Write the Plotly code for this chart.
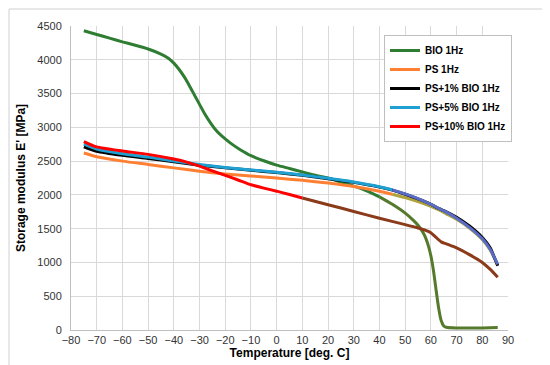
import plotly.graph_objects as go

# ---- data ----
bio_t = [-75, -70, -65, -60, -55, -50, -45, -42, -40, -38, -36, -34, -32, -30, -28, -26, -24, -22, -20, -17, -14, -10, -5, 0, 5, 10, 15, 20, 25, 30, 35, 40, 45, 50, 53, 55, 57, 58, 59, 60, 61, 62, 63, 64, 65, 66, 70, 75, 80, 86]
bio_e = [4430, 4375, 4320, 4265, 4215, 4160, 4085, 4020, 3950, 3860, 3750, 3620, 3480, 3340, 3200, 3080, 2975, 2895, 2830, 2740, 2665, 2580, 2505, 2440, 2390, 2340, 2290, 2250, 2190, 2130, 2060, 1970, 1860, 1730, 1630, 1550, 1440, 1360, 1250, 1100, 880, 600, 330, 140, 60, 40, 30, 28, 30, 38]

ps_t = [-75, -70, -60, -50, -40, -30, -20, -10, 0, 10, 20, 30, 40, 45, 50, 55, 60, 63, 66, 70, 75, 80, 83, 86]
ps_e = [2620, 2565, 2500, 2450, 2400, 2350, 2310, 2280, 2250, 2215, 2175, 2125, 2055, 2010, 1960, 1900, 1830, 1780, 1720, 1640, 1510, 1340, 1190, 960]

ps1_t = [-75, -70, -60, -50, -40, -30, -20, -10, 0, 10, 20, 30, 40, 45, 50, 55, 60, 63, 66, 70, 75, 80, 83, 86]
ps1_e = [2710, 2645, 2585, 2540, 2490, 2440, 2400, 2365, 2330, 2290, 2240, 2185, 2115, 2070, 2010, 1940, 1860, 1800, 1750, 1670, 1540, 1370, 1220, 950]

ps5_t = [-75, -70, -60, -50, -40, -30, -20, -10, 0, 10, 20, 30, 40, 45, 50, 55, 60, 63, 66, 70, 75, 80, 83, 86]
ps5_e = [2750, 2680, 2610, 2560, 2500, 2450, 2405, 2370, 2335, 2295, 2245, 2190, 2120, 2075, 2015, 1945, 1860, 1800, 1745, 1655, 1520, 1350, 1200, 970]

ps10_t = [-75, -70, -60, -50, -40, -35, -30, -25, -20, -15, -10, -5, 0, 5, 10, 20, 30, 40, 50, 55, 58, 60, 62, 64, 66, 70, 75, 80, 83, 86]
ps10_e = [2790, 2710, 2650, 2600, 2530, 2485, 2425, 2355, 2290, 2220, 2150, 2100, 2055, 2005, 1955, 1855, 1755, 1655, 1560, 1510, 1475, 1440, 1370, 1305, 1275, 1215, 1115, 1000, 900, 780]

x_ticks = list(range(-80, 91, 10))
y_ticks = list(range(0, 4501, 500))

# name, t, e, main colour, split temperature, tail colour
series = [
    ("BIO 1Hz", bio_t, bio_e, "#2e7d32", 40, "#557a2c"),
    ("PS 1Hz", ps_t, ps_e, "#ff7f33", 45, "#b0a23a"),
    ("PS+1% BIO 1Hz", ps1_t, ps1_e, "#000000", None, None),
    ("PS+5% BIO 1Hz", ps5_t, ps5_e, "#1fa0d2", 45, "#5a6cc8"),
    ("PS+10% BIO 1Hz", ps10_t, ps10_e, "#ff0000", 6, "#8b3a1a"),
]

fig = go.Figure()
for rank, (name, t, e, col, split, tail) in enumerate(series):
    if split is None:
        fig.add_trace(go.Scatter(x=t, y=e, mode="lines", name=name,
                                 line=dict(color=col, width=3, shape="spline", smoothing=0.6),
                                 legendrank=rank + 1))
        continue
    i = next(k for k, v in enumerate(t) if v >= split)
    fig.add_trace(go.Scatter(x=t[:i + 1], y=e[:i + 1], mode="lines", name=name,
                             line=dict(color=col, width=3, shape="spline", smoothing=0.6),
                             legendrank=rank + 1))
    fig.add_trace(go.Scatter(x=t[i:], y=e[i:], mode="lines", name=name, showlegend=False,
                             line=dict(color=tail, width=3, shape="spline", smoothing=0.6)))

L, R, T, B = 63, 50, 18, 43
W, H = 550, 365
pw, ph = W - L - R, H - T - B

fig.update_layout(
    width=W, height=H,
    margin=dict(l=L, r=R, t=T, b=B, autoexpand=False),
    paper_bgcolor="white", plot_bgcolor="white",
    font=dict(family="Liberation Sans, Arial, sans-serif", size=11, color="#333333"),
    showlegend=True,
    legend=dict(x=(376 - L) / pw, y=(322 - 27) / ph, xanchor="left", yanchor="top",
                bgcolor="white", bordercolor="#bfbfbf", borderwidth=1,
                font=dict(size=10, color="#000000", weight="bold",
                          family="Liberation Sans, Arial, sans-serif"),
                tracegroupgap=0, itemwidth=30),
    xaxis=dict(range=[-80, 90], tickvals=x_ticks, showgrid=True, gridcolor="#d9d9d9",
               gridwidth=1, zeroline=False, showline=True, linecolor="#bfbfbf",
               ticks="", ticklabelstandoff=0, automargin=False,
               title=dict(text="<b>Temperature [deg. C]</b>", standoff=3,
                          font=dict(size=12, color="#000000"))),
    yaxis=dict(range=[0, 4500], tickvals=y_ticks, showgrid=True, gridcolor="#d9d9d9",
               gridwidth=1, zeroline=False, showline=True, linecolor="#bfbfbf",
               ticks="", ticklabelstandoff=6, automargin=False,
               title=dict(text="<b>Storage modulus E' [MPa]</b>", standoff=9,
                          font=dict(size=12, color="#000000"))),
)

# outer frame of the chart
fig.add_shape(type="rect", xref="paper", yref="paper",
              x0=-(L - 1) / pw, x1=1 + (R - 2) / pw, y0=-(B - 1) / ph, y1=1 + (T - 1) / ph,
              line=dict(color="#d0d0d0", width=1), fillcolor="rgba(0,0,0,0)", layer="below")

fig.write_html("out.html")
